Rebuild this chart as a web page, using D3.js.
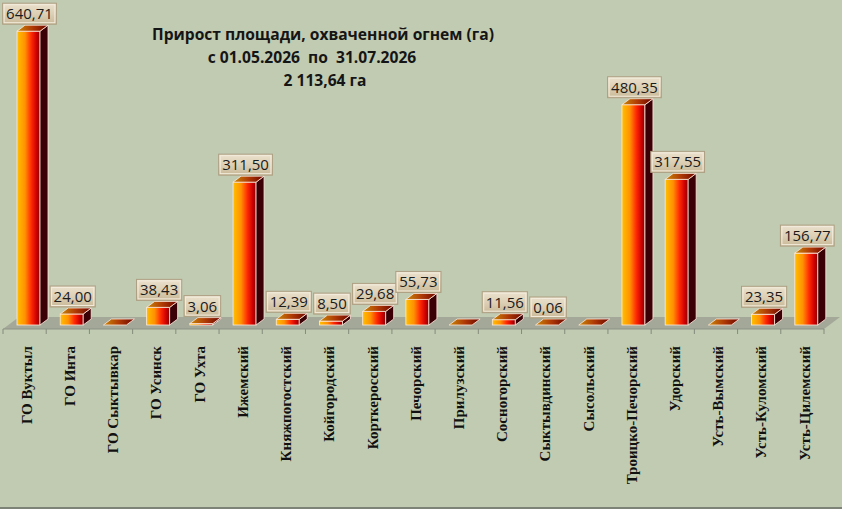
<!DOCTYPE html>
<html><head><meta charset="utf-8">
<script src="https://cdn.jsdelivr.net/npm/d3@7"></script>
<style>
html,body{margin:0;padding:0;background:#c0cbb2;}
svg{display:block;}
</style></head>
<body>
<svg id="chart" width="842" height="509"></svg>
<script>
const categories = ["ГО Вуктыл","ГО Инта","ГО Сыктывкар","ГО Усинск","ГО Ухта","Ижемский","Княжпогостский","Койгородский","Корткеросский","Печорский","Прилузский","Сосногорский","Сыктывдинский","Сысольский","Троицко-Печорский","Удорский","Усть-Вымский","Усть-Куломский","Усть-Цилемский"];
const values = [640.71,24.00,0,38.43,3.06,311.50,12.39,8.50,29.68,55.73,0,11.56,0.06,0,480.35,317.55,0,23.35,156.77];
const titleLines = ["Прирост площади, охваченной огнем (га)","с 01.05.2026  по  31.07.2026","2 113,64 га"];
const yDomain = [0, 700];

const svg = d3.select("#chart");
const W = 842, H = 509;
svg.append("rect").attr("width",W).attr("height",H).attr("fill","#c0cbb2");
svg.append("line").attr("x1",0).attr("x2",W).attr("y1",508).attr("y2",508).attr("stroke","#7d8376").attr("stroke-width",2);

const x = d3.scaleBand().domain(categories).range([3, 824]).padding(0);
const y = d3.scaleLinear().domain(yDomain).range([325, 4]);
const dx = 8, dy = -6, bw = 23, off = 14;

const defs = svg.append("defs");
const gFront = defs.append("linearGradient").attr("id","gFront").attr("x1","0").attr("x2","1").attr("y1","0").attr("y2","0");
[[0,"#ffc000"],[0.35,"#ff9000"],[0.62,"#ff2a00"],[0.85,"#cc0000"],[1,"#860000"]].forEach(s=>gFront.append("stop").attr("offset",s[0]).attr("stop-color",s[1]));
const gTop = defs.append("linearGradient").attr("id","gTop").attr("x1","0").attr("x2","1").attr("y1","0").attr("y2","0");
[[0,"#c98a08"],[0.5,"#b03a06"],[1,"#6a0400"]].forEach(s=>gTop.append("stop").attr("offset",s[0]).attr("stop-color",s[1]));
const gBox = defs.append("linearGradient").attr("id","gBox").attr("x1","0").attr("x2","0").attr("y1","0").attr("y2","1");
[[0,"#ebe1cd"],[0.5,"#ddd0b6"],[1,"#c9b998"]].forEach(s=>gBox.append("stop").attr("offset",s[0]).attr("stop-color",s[1]));

// floor
const y0 = y(0);
const floorFrontY = 329, floorBackY = 317, fdx = 16;
svg.append("polygon")
  .attr("points", [[x.range()[0],floorFrontY],[x.range()[1],floorFrontY],[x.range()[1]+fdx,floorBackY],[x.range()[0]+fdx,floorBackY]].map(p=>p.join(",")).join(" "))
  .attr("fill","#a3a898");
svg.append("line").attr("x1",x.range()[0]).attr("x2",x.range()[1]).attr("y1",floorFrontY).attr("y2",floorFrontY).attr("stroke","#8e9486").attr("stroke-width",1.2);
// ticks
const bounds = categories.map(c=>x(c)).concat([x.range()[1]]);
svg.selectAll("line.tick").data(bounds).join("line").attr("class","tick")
  .attr("x1",d=>d).attr("x2",d=>d).attr("y1",floorFrontY).attr("y2",floorFrontY+5)
  .attr("stroke","#858b7d").attr("stroke-width",1);

const fmt = v => d3.format(".2f")(v).replace(".", ",");
const data = categories.map((c,i)=>({c, v: values[i]}));

const bars = svg.append("g").selectAll("g").data(data).join("g");
bars.each(function(d){
  const g = d3.select(this);
  const x0 = x(d.c) + off;
  const yt = y(d.v);
  const pts = a => a.map(p=>p.join(",")).join(" ");
  if (d.v > 0.5) {
    g.append("rect").attr("x",x0).attr("y",yt).attr("width",bw).attr("height",y0-yt)
      .attr("fill","url(#gFront)").attr("stroke","#ffe9dc").attr("stroke-width",0.8);
    g.append("polygon").attr("points",pts([[x0+bw,yt],[x0+bw+dx,yt+dy],[x0+bw+dx,y0+dy],[x0+bw,y0]]))
      .attr("fill","#3b0006").attr("stroke","#ffe9dc").attr("stroke-width",0.8);
  }
  g.append("polygon").attr("points",pts([[x0,yt],[x0+dx,yt+dy],[x0+bw+dx,yt+dy],[x0+bw,yt]]))
    .attr("fill","url(#gTop)").attr("stroke","#ffe9dc").attr("stroke-width",0.8);
});

// value labels
const labs = svg.append("g").selectAll("g").data(data.filter(d=>d.v>0)).join("g");
labs.each(function(d){
  const g = d3.select(this);
  const cx = x(d.c) + off + bw/2 + 1;
  const bottom = y(d.v) - 7;
  const t = g.append("text").attr("x",cx).attr("y",bottom-5)
    .attr("text-anchor","middle").attr("font-family","'Open Sans', sans-serif").attr("font-size",15)
    .attr("fill","#1b1b1b").text(fmt(d.v));
  const tw = t.node().getComputedTextLength();
  const bwid = tw + 7, bh = 21;
  g.insert("rect","text").attr("x",cx-bwid/2).attr("y",bottom-bh).attr("width",bwid).attr("height",bh)
    .attr("fill","url(#gBox)").attr("stroke","#ad9f83").attr("stroke-width",1);
  g.insert("rect","text").attr("x",cx-bwid/2+1.5).attr("y",bottom-bh+1.5).attr("width",bwid-3).attr("height",bh-3)
    .attr("fill","none").attr("stroke","#f3ecdd").attr("stroke-width",1);
});

// category labels
svg.append("g").selectAll("text").data(categories).join("text")
  .attr("transform", c => `translate(${x(c)+x.bandwidth()/2+2},346) rotate(-90)`)
  .attr("text-anchor","end").attr("dy","0.35em")
  .attr("font-family","'Liberation Serif', 'Times New Roman', serif").attr("font-weight","bold").attr("font-size",15)
  .attr("fill","#111").text(c=>c);

// title
const tx = [323, 312, 325], ty = [40, 63, 86];
svg.append("g").selectAll("text").data(titleLines).join("text")
  .attr("x",(d,i)=>tx[i]).attr("y",(d,i)=>ty[i]).attr("text-anchor","middle")
  .style("white-space","pre").attr("xml:space","preserve")
  .attr("font-family","'Open Sans', sans-serif").attr("font-weight","bold").attr("font-size",15.6)
  .attr("fill","#151515").text(d=>d);
</script>
</body></html>
